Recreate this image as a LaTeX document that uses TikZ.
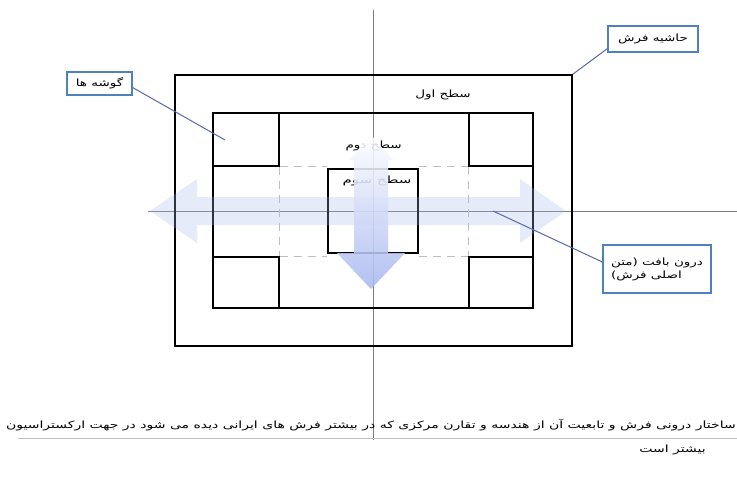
\documentclass[tikz,border=0pt]{standalone}
\usepackage{graphicx}
\usepackage{fontspec}
\newfontfamily\arabicfont[Script=Arabic]{DejaVu Sans}
\TeXXeTstate=1
\usetikzlibrary{positioning, arrows.meta}
\definecolor{CalloutBlue}{RGB}{79, 129, 189}
\definecolor{LeaderBlue}{RGB}{88, 106, 168}
\definecolor{ArrowBlue}{RGB}{168, 184, 240}
\definecolor{AxisGrey}{RGB}{125, 125, 125}

% stretched right-to-left text
\newcommand{\rtl}[2][1.35]{\scalebox{#1}[1]{\beginR #2\endR}}

\tikzset{
  callout/.style={draw=CalloutBlue, line width=1.2pt, fill=white, inner sep=3pt, font=\arabicfont\fontsize{10}{13}\selectfont},
  leader/.style={LeaderBlue, line width=1pt},
  frame/.style={draw=black, line width=1.6pt, inner sep=0pt},
  axis/.style={AxisGrey, line width=0.8pt},
  guide/.style={gray!50, line width=0.9pt, dash pattern=on 8pt off 6pt},
  level/.style={font=\arabicfont\fontsize{10}{12}\selectfont, inner sep=0pt},
}

\begin{document}
\begin{tikzpicture}[x=1pt, y=-1pt]
    \fill[white] (0,0) rectangle (737,479);
    \clip (0,0) rectangle (737,479);

    % axes
    \draw[axis] (373,10) -- (373,440);
    \draw[axis] (148,211) -- (737,211);

    % carpet frames
    \node[frame, minimum width=397pt, minimum height=271pt] (outer) at (373.5,210.5) {};
    \node[frame, minimum width=320pt, minimum height=195pt] (inner) at (373,210.5) {};
    \node[frame, minimum width=66pt, minimum height=53pt] (tl) at (246,139.5) {};
    \node[frame, minimum width=64pt, minimum height=53pt] (tr) at (501,139.5) {};
    \node[frame, minimum width=66pt, minimum height=51pt] (bl) at (246,282.5) {};
    \node[frame, minimum width=64pt, minimum height=51pt] (br) at (501,282.5) {};
    \node[frame, minimum width=90pt, minimum height=84pt] (centre) at (373,211) {};

    \draw[guide] (tl.south east) -- (tl.south east -| centre.west);
    \draw[guide] (tr.south west -| centre.east) -- (tr.south west);
    \draw[guide] (bl.north east) -- (bl.north east -| centre.west);
    \draw[guide] (br.north west -| centre.east) -- (br.north west);
    \draw[guide] (tl.south east) -- (bl.north east);
    \draw[guide] (tr.south west) -- (br.north west);

    % level labels
    \node[level] (level1) at (443,95) {\rtl{سطح اول}};
    \node[level, anchor=east] (level2) at (402,146) {\rtl{سطح دوم}};
    \node[level] (level3) at (377,181) {\rtl[1.5]{سطح سوم}};

    % arrows
    \fill[ArrowBlue, opacity=0.28] (150,211) -- (197,179) -- (197,197) -- (520,197) -- (520,179)
        -- (566,211) -- (520,243) -- (520,225) -- (197,225) -- (197,243) -- cycle;
    \shade[top color=white, bottom color=ArrowBlue, opacity=0.88] (371,135) -- (393,160) -- (388,160)
        -- (388,253) -- (405,253) -- (371,289) -- (337,253) -- (354,253) -- (354,160) -- (349,160) -- cycle;

    % callouts
    \node[callout, minimum width=90pt, minimum height=26pt] (border) at (653,39) {\rtl{حاشیه فرش}};
    \node[callout, minimum width=65pt, minimum height=23pt] (corners) at (99.5,83.5) {\rtl{گوشه ها}};
    \node[callout, minimum width=108pt, minimum height=48pt, align=left] (field) at (657,269)
        {\rtl{درون بافت (متن}\\ \rtl{اصلی فرش)}};

    \coordinate (cornerpt) at (225,140);
    \coordinate (fieldpt) at (493,211);
    \draw[leader] ([yshift=4pt]border.south west) -- (outer.north east);
    \draw[leader] ([yshift=-4pt]corners.east) -- (cornerpt);
    \draw[leader] ([yshift=7pt]field.west) -- (fieldpt);

    % caption
    \node[level, anchor=east] (caption1) at (736,425)
        {\rtl[1.4]{ساختار درونی فرش و تابعیت آن از هندسه و تقارن مرکزی که در بیشتر فرش های ایرانی دیده می شود در جهت ارکستراسیون}};
    \node[level, anchor=east] (caption2) at (706,450) {\rtl[1.4]{بیشتر است}};
    \draw[gray!50, line width=0.8pt] (18,438) -- (737,438);
\end{tikzpicture}
\end{document}
